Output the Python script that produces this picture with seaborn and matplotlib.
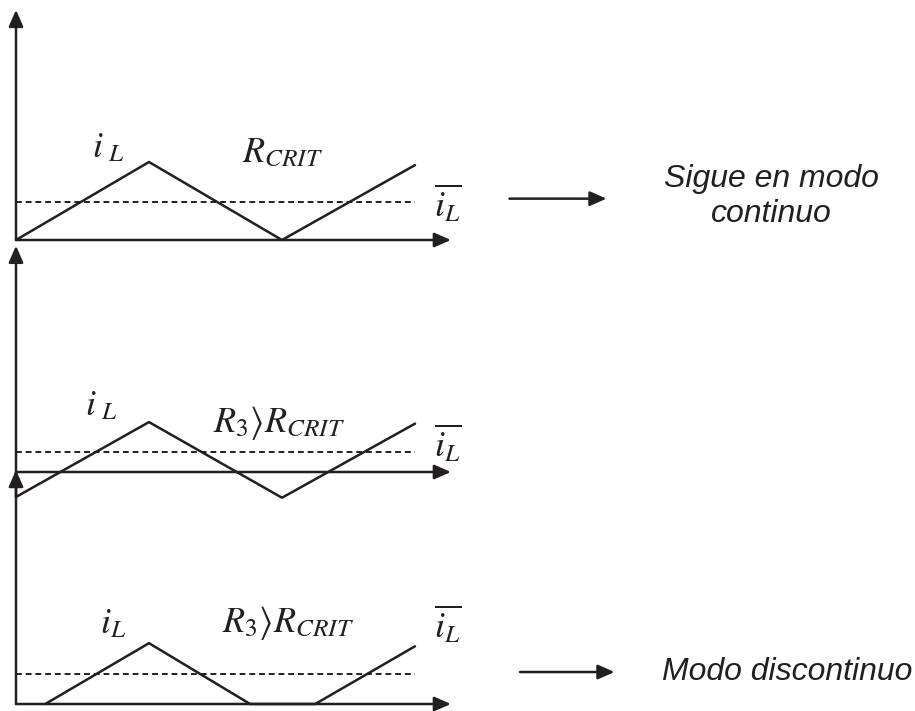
import matplotlib
matplotlib.use("Agg")
import matplotlib.pyplot as plt
import seaborn as sns

# Breakpoints of the inductor current in each case (time in half-periods, current in units of ripple)
t_crit = [0, 1, 2, 3]
i_crit = [0, 1, 0, 0.96]
avg_crit = 0.49

t_ccm = [0, 1, 2, 3]
i_ccm = [-0.32, 0.64, -0.33, 0.62]
avg_ccm = 0.26

t_dcm = [0.22, 1, 1.76, 2.25, 3]
i_dcm = [0, 0.78, 0, 0, 0.74]
avg_dcm = 0.38

INK = "#231f20"
LW = 1.8

sns.set_style("white")
plt.rcParams["mathtext.fontset"] = "stix"

W, H = 915, 711
fig = plt.figure(figsize=(W / 100, H / 100), dpi=100)

# pixel scale of one data unit
SX, SY = 133.0, 78.0
X0 = 16


def panel(y0):
    # full-figure transparent axes, origin at pixel (X0, y0) from top-left
    ax = fig.add_axes([0, 0, 1, 1])
    ax.set_xlim(-X0 / SX, (W - X0) / SX)
    ax.set_ylim((y0 - H) / SY, y0 / SY)
    ax.axis("off")
    ax.patch.set_alpha(0)
    return ax


def arrow(ax, start, end):
    ax.annotate("", xy=end, xytext=start,
                arrowprops=dict(arrowstyle="-|>,head_length=0.5,head_width=0.22",
                                mutation_scale=20, color=INK, lw=LW,
                                shrinkA=0, shrinkB=0))


def draw_case(ax, t, i, avg, y_bottom, y_top):
    arrow(ax, (0, 0), (3.27, 0))
    arrow(ax, (0, y_bottom), (0, y_top))
    sns.lineplot(x=t, y=i, ax=ax, color=INK, lw=LW, sort=False, estimator=None)
    ax.hlines(avg, 0, 3, colors=INK, lw=1.4, linestyles=(0, (3, 2)))


math_kw = dict(fontsize=26, color=INK, va="baseline", ha="left")
note_kw = dict(fontsize=23, style="italic", family="Liberation Sans", color=INK)

# case 1: critical resistance
ax1 = panel(240)
draw_case(ax1, t_crit, i_crit, avg_crit, 0, 2.95)
ax1.text(0.57, 1.06, r"$i_{\ L}$", **math_kw)
ax1.text(1.70, 1.0, r"$R_{CRIT}$", **math_kw)
ax1.text(3.14, 0.29, r"$\overline{i_L}$", **math_kw)
arrow(ax1, (3.71, 0.53), (4.44, 0.53))
ax1.text(5.68, 0.56, "Sigue en modo\ncontinuo", ha="center", va="center",
         linespacing=1.2, **note_kw)

# case 2
ax2 = panel(472)
draw_case(ax2, t_ccm, i_ccm, avg_ccm, -0.32, 2.9)
ax2.text(0.52, 0.73, r"$i_{\ L}$", **math_kw)
ax2.text(1.48, 0.51, r"$R_3\rangle R_{CRIT}$", **math_kw)
ax2.text(3.14, 0.19, r"$\overline{i_L}$", **math_kw)

# case 3: discontinuous
ax3 = panel(704)
draw_case(ax3, t_dcm, i_dcm, avg_dcm, 0, 3.0)
ax3.text(0.63, 0.91, r"$i_L$", **math_kw)
ax3.text(1.55, 0.92, r"$R_3\rangle R_{CRIT}$", **math_kw)
ax3.text(3.14, 0.85, r"$\overline{i_L}$", **math_kw)
arrow(ax3, (3.79, 0.41), (4.50, 0.41))
ax3.text(4.86, 0.41, "Modo discontinuo", ha="left", va="center", **note_kw)

fig.savefig("out.png", dpi=100)
